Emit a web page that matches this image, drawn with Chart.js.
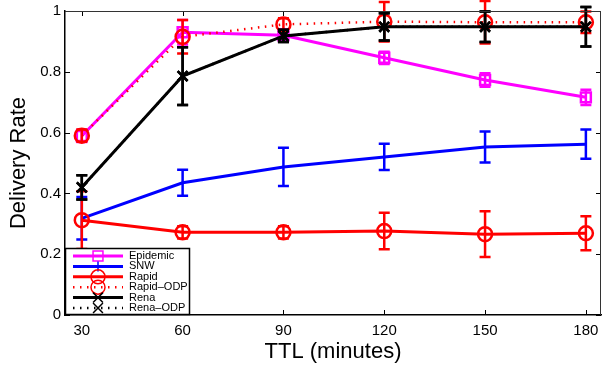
<!DOCTYPE html>
<html>
<head>
<meta charset="utf-8">
<script src="https://cdn.jsdelivr.net/npm/chart.js@4/dist/chart.umd.min.js"></script>
<style>
  html, body { margin: 0; padding: 0; background: #fff; }
  #wrap { width: 603px; height: 366px; }
</style>
</head>
<body>
<div id="wrap"><canvas id="grafico" width="603" height="366"></canvas></div>
<script>
// TTL values (minutes) and tick labels
const ttl = [30, 60, 90, 120, 150, 180];
const xTicks = [30, 60, 90, 120, 150, 180];
const yTicks = [0, 0.2, 0.4, 0.6, 0.8, 1];
const yTickLabels = ['0', '0.2', '0.4', '0.6', '0.8', '1'];

// delivery rate per protocol
const epidemic = [0.589, 0.93, 0.92, 0.846, 0.773, 0.716];
const epidemicErr = [0.02, 0.04, 0.02, 0.02, 0.022, 0.025];
const snw = [0.318, 0.435, 0.487, 0.52, 0.553, 0.562];
const snwErr = [0.07, 0.043, 0.063, 0.043, 0.051, 0.048];
const rapid = [0.312, 0.272, 0.272, 0.276, 0.266, 0.269];
const rapidErr = [0.095, 0.02, 0.02, 0.06, 0.075, 0.056];
const rapidOdp = [0.59, 0.915, 0.956, 0.965, 0.963, 0.963];
const rapidOdpErr = [0.02, 0.055, 0.02, 0.065, 0.07, 0.035];
const rena = [0.42, 0.786, 0.918, 0.948, 0.948, 0.948];
const renaErr = [0.04, 0.095, 0.02, 0.045, 0.05, 0.065];
const renaOdp = [0.42, 0.786, 0.918, 0.948, 0.948, 0.948];
const renaOdpErr = [0.04, 0.095, 0.02, 0.045, 0.05, 0.065];

const toXY = (vals) => vals.map((v, i) => ({ x: ttl[i], y: v }));

const serie = (label, vals, errs, color, style, dash) => ({
  label: label,
  data: toXY(vals),
  errors: errs,
  borderColor: color,
  borderWidth: dash ? 2.5 : 3,
  borderDash: dash || [],
  pointStyle: style,
  pointRadius: style ? 7 : 0,
  pointBorderWidth: 2.5,
  pointBorderColor: color,
  pointBackgroundColor: 'rgba(0,0,0,0)',
  tension: 0,
  clip: false
});

const datasets = [
  serie('Epidemic', epidemic, epidemicErr, '#ff00ff', 'rect'),
  serie('SNW', snw, snwErr, '#0000ff', false),
  serie('Rapid', rapid, rapidErr, '#ff0000', 'circle'),
  serie('Rapid\u2013ODP', rapidOdp, rapidOdpErr, '#ff0000', 'circle', [1.5, 5.5]),
  serie('Rena', rena, renaErr, '#000000', 'crossRot'),
  serie('Rena\u2013ODP', renaOdp, renaOdpErr, '#000000', 'crossRot', [1.5, 5.5])
];
// later series on top, like the original
datasets.forEach((d, i) => { d.order = datasets.length - i; });

// error bars with caps, drawn right after each series
const errorBars = {
  id: 'errorBars',
  afterDatasetDraw(chart, args) {
    const ds = chart.data.datasets[args.index];
    if (!ds.errors) return;
    const ctx = chart.ctx;
    const y = chart.scales.y;
    ctx.save();
    ctx.strokeStyle = ds.borderColor;
    ctx.lineWidth = 2.5;
    ctx.setLineDash([]);
    args.meta.data.forEach((pt, i) => {
      const v = ds.data[i].y, e = ds.errors[i];
      const top = y.getPixelForValue(v + e);
      const bot = y.getPixelForValue(v - e);
      ctx.beginPath();
      ctx.moveTo(pt.x, top); ctx.lineTo(pt.x, bot);
      ctx.moveTo(pt.x - 5.5, top); ctx.lineTo(pt.x + 5.5, top);
      ctx.moveTo(pt.x - 5.5, bot); ctx.lineTo(pt.x + 5.5, bot);
      ctx.stroke();
    });
    ctx.restore();
  }
};

// box, inward ticks and legend inside the plot
const marco = {
  id: 'marco',
  afterDraw(chart) {
    const ctx = chart.ctx;
    const a = chart.chartArea;
    const xs = chart.scales.x, ys = chart.scales.y;
    ctx.save();
    ctx.strokeStyle = '#000';
    ctx.lineWidth = 1;
    ctx.setLineDash([]);
    ctx.beginPath();
    xTicks.forEach(t => {
      const px = Math.round(xs.getPixelForValue(t)) + 0.5;
      ctx.moveTo(px, a.bottom); ctx.lineTo(px, a.bottom - 5);
      ctx.moveTo(px, a.top); ctx.lineTo(px, a.top + 5);
    });
    yTicks.forEach(t => {
      const py = Math.round(ys.getPixelForValue(t)) + 0.5;
      ctx.moveTo(a.left, py); ctx.lineTo(a.left + 5, py);
      ctx.moveTo(a.right, py); ctx.lineTo(a.right - 5, py);
    });
    ctx.stroke();
    ctx.strokeStyle = '#333';
    ctx.beginPath();
    ctx.moveTo(a.left, a.top + 0.5); ctx.lineTo(a.right, a.top + 0.5);
    ctx.moveTo(a.right - 0.5, a.top); ctx.lineTo(a.right - 0.5, a.bottom);
    ctx.stroke();

    // legend
    const bx = a.left, by = 248, bw = 125, bh = a.bottom - by;
    ctx.fillStyle = '#fff';
    ctx.fillRect(bx, by, bw, bh);
    ctx.strokeStyle = '#000';
    ctx.lineWidth = 1.5;
    ctx.strokeRect(bx + 0.5, by + 0.5, bw - 1, bh - 1);
    ctx.font = '11px "Liberation Sans", Arial, sans-serif';
    ctx.textBaseline = 'middle';
    datasets.forEach((d, i) => {
      const ly = by + 8 + i * 10.4;
      ctx.strokeStyle = d.borderColor;
      ctx.lineWidth = d.borderWidth;
      ctx.setLineDash(d.borderDash);
      ctx.beginPath();
      ctx.moveTo(bx + 8, ly); ctx.lineTo(bx + 58, ly);
      ctx.stroke();
      ctx.setLineDash([]);
      if (d.pointStyle) {
        ctx.lineWidth = 1.5;
        ctx.fillStyle = 'rgba(0,0,0,0)';
        Chart.helpers.drawPoint(ctx, { pointStyle: d.pointStyle, radius: 7, rotation: 0, borderWidth: 1.5 }, bx + 33, ly);
      } else {
        ctx.lineWidth = 1.5;
        ctx.beginPath();
        ctx.moveTo(bx + 33, ly - 5); ctx.lineTo(bx + 33, ly + 5);
        ctx.stroke();
      }
      ctx.fillStyle = '#000';
      ctx.fillText(d.label, bx + 64, ly);
    });
    ctx.restore();
  }
};

new Chart(document.getElementById('grafico').getContext('2d'), {
  type: 'line',
  data: { datasets: datasets },
  plugins: [errorBars, marco],
  options: {
    responsive: false,
    animation: false,
    maintainAspectRatio: false,
    layout: { autoPadding: false, padding: { top: 11, right: 2, left: 0, bottom: 0 } },
    plugins: { legend: { display: false }, tooltip: { enabled: false } },
    scales: {
      x: {
        type: 'linear',
        min: 25,
        max: 184.5,
        afterBuildTicks: (s) => { s.ticks = xTicks.map(v => ({ value: v })); },
        afterFit: (s) => { s.height = 51; s.paddingLeft = 0; s.paddingRight = 0; },
        grid: { display: false, drawTicks: false },
        border: { display: true, color: '#000', width: 1.5 },
        ticks: { padding: 7, color: '#000', maxRotation: 0, callback: (v) => String(v), font: { family: '"Liberation Sans", Arial, sans-serif', size: 15 } },
        title: { display: true, text: 'TTL (minutes)', color: '#000', padding: { top: 0, bottom: 1 }, font: { family: '"Liberation Sans", Arial, sans-serif', size: 22 } }
      },
      y: {
        min: 0,
        max: 1,
        afterBuildTicks: (s) => { s.ticks = yTicks.map(v => ({ value: v })); },
        afterFit: (s) => { s.width = 65; s.paddingTop = 0; s.paddingBottom = 0; },
        grid: { display: false, drawTicks: false },
        border: { display: true, color: '#000', width: 1.5 },
        ticks: { padding: 4, color: '#000', callback: (v, i) => yTickLabels[i], font: { family: '"Liberation Sans", Arial, sans-serif', size: 15 } },
        title: { display: true, text: 'Delivery Rate', color: '#000', padding: { top: 6, bottom: 0 }, font: { family: '"Liberation Sans", Arial, sans-serif', size: 22 } }
      }
    }
  }
});
</script>
</body>
</html>
